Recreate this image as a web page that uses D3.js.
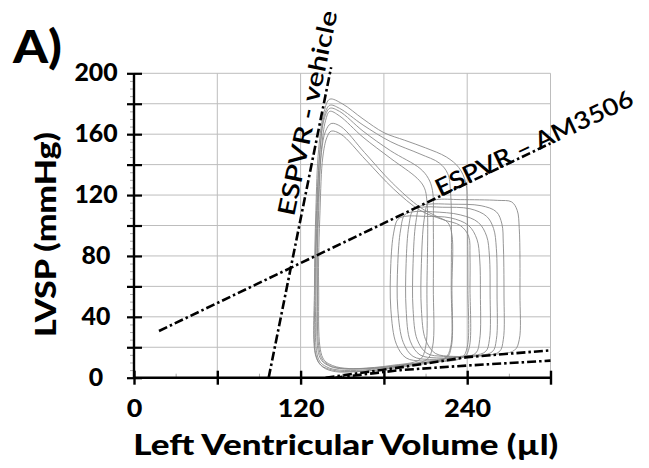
<!DOCTYPE html>
<html><head><meta charset="utf-8">
<script src="https://cdn.jsdelivr.net/npm/d3@7"></script>
<style>body{margin:0;background:#fff}svg{display:block}</style>
</head><body>
<svg id="c" width="649" height="468"></svg>
<script>
// ---- data ----
const xTicks = [0, 60, 120, 180, 240, 300];
const xTickLabels = ["0", "", "120", "", "240", ""];
const xMinor = [30, 90, 150, 210, 270];
const yTicks = [0, 20, 40, 60, 80, 100, 120, 140, 160, 180, 200];
const yTickLabels = ["0", "", "40", "", "80", "", "120", "", "160", "", "200"];
const yMinor = [5,10,15,25,30,35,45,50,55,65,70,75,85,90,95,105,110,115,125,130,135,145,150,155,165,170,175,185,190,195];

// ESPVR / EDPVR lines [volume, pressure]
const espvrVehicle = [[97, 0], [142, 204]];
const espvrAM = [[18, 30.7], [300, 154]];
const edpvrA = [[138, 0], [192, 6.8], [240, 13.5], [300, 18]];
const edpvrB = [[145, 0], [192, 5], [240, 8], [300, 11.2]];

// vehicle loops (volume, pressure), closed
const vehLoop1 = [[141,183],[150,180],[165,170],[180,161],[195,156],[210,151],[225,145],[234,138],[239,128],[240,110],[240.5,60],[240,20],[236,13],[215,10],[185,6],[160,4],[145,4],[136,7],[131,14],[130,60],[131,110],[133,150],[137,175]];
const vehLoop2 = [[141,179],[148,177],[165,166],[185,155],[206,147],[220,141],[226,134],[228,122],[228.5,60],[228,20],[224,13],[200,9],[175,5],[155,4],[143,5],[135,8],[131,15],[130.5,60],[131.5,110],[134,150],[137,172]];
const vehLoop3 = [[141,177],[148,175],[165,162],[185,149],[206,137.5],[212,131],[215,123],[215.6,100],[215.6,60],[215,20],[211,12],[190,8],[165,5],[148,5],[139,7],[133,12],[131,60],[132,110],[134,150],[137,170]];
const vehLoop4 = [[141,175],[148,172],[165,158],[185,144],[204,131],[209,125],[211,116],[211,60],[210,20],[206,12],[185,8],[162,6],[148,6],[140,8],[134,13],[132,60],[132.5,110],[135,150],[138,169]];
const vehLoop5 = [[142,167],[149,165],[166,148],[186,128],[206,112],[218,106],[226,102],[229,94],[229,60],[228.5,20],[225,13],[200,9],[170,6],[150,6],[141,8],[135,13],[132,60],[133,110],[135,148],[138,162]];
const vehLoop6 = [[142,162],[149,160],[167,143],[187,124],[206,110],[222,104],[235,100],[241,93],[242,80],[242,60],[241.5,20],[238,14],[210,10],[180,7],[155,6],[143,8],[136,13],[133,60],[134,110],[136,145],[139,158]];

// AM3506 loops
const amLoop1 = [[190,104],[195,106],[210,106],[228,105],[241,100],[247,91],[249,78],[249.5,55],[249,25],[246,16],[230,13],[208,11],[196,13],[189,22],[185,45],[185,75],[187,95]];
const amLoop2 = [[195,107],[201,109],[215,109],[235,107],[248,102],[254,93],[256,80],[256.5,55],[256,25],[253,17],[235,14],[213,12],[201,14],[194,23],[190,45],[190,75],[192,97]];
const amLoop3 = [[201,110],[207,112],[222,112],[242,111],[254,106],[259,98],[261,85],[261.5,55],[261,25],[258,17],[240,14],[218,13],[206,15],[199,24],[196,45],[196,75],[198,100]];
const amLoop4 = [[206,112.5],[212,114],[228,114],[250,113],[261,109],[265,101],[266,88],[266.5,55],[266,25],[263,17],[245,14],[223,14],[211,16],[204,25],[201,45],[201,75],[203,102]];
const amLoop5 = [[212,115],[218,117],[235,117],[262,116.5],[272,115.5],[276,110],[277.5,98],[278,55],[277.5,25],[274,18],[255,15],[230,14],[217,16],[210,25],[207,45],[207,75],[209,104]];

const loops = [vehLoop1, vehLoop2, vehLoop3, vehLoop4, vehLoop5, vehLoop6, amLoop1, amLoop2, amLoop3, amLoop4, amLoop5];

// ---- drawing ----
const svg = d3.select("#c");
const x = d3.scaleLinear().domain([0, 300]).range([134, 550.5]);
const y = d3.scaleLinear().domain([0, 200]).range([377.7, 73.3]);
const font = "Lato, 'Open Sans', sans-serif";

// grid
const g = svg.append("g");
g.selectAll(".hg").data(yTicks.filter(d => d > 0)).join("line")
  .attr("x1", x(0)).attr("x2", x(300)).attr("y1", d => y(d)).attr("y2", d => y(d))
  .attr("stroke", "#bdbdbd").attr("stroke-width", 1);
g.selectAll(".vg").data(xTicks.filter(d => d > 0)).join("line")
  .attr("y1", y(0)).attr("y2", y(200)).attr("x1", d => x(d)).attr("x2", d => x(d))
  .attr("stroke", "#bdbdbd").attr("stroke-width", 1);

// loops
const line = d3.line().x(d => x(d[0])).y(d => y(d[1])).curve(d3.curveCatmullRomClosed.alpha(0.5));
svg.append("g").selectAll("path").data(loops).join("path")
  .attr("d", line).attr("fill", "none").attr("stroke", "#8a8a8a").attr("stroke-width", 0.9);

// relation lines
[espvrVehicle, espvrAM, edpvrA, edpvrB].forEach(d => {
  svg.append("path").attr("d", d3.line().x(p => x(p[0])).y(p => y(p[1]))(d))
    .attr("fill", "none").attr("stroke", "#000").attr("stroke-width", 2.6)
    .attr("stroke-dasharray", "9,3,2.5,3");
});

// minor ticks
svg.append("g").attr("transform", `translate(0,${y(0)})`)
  .call(d3.axisBottom(x).tickValues(xMinor).tickSize(-4).tickFormat(""))
  .call(a => a.select(".domain").remove())
  .call(a => a.selectAll("line").attr("stroke", "#aaa").attr("stroke-width", 1));
svg.append("g").attr("transform", `translate(${x(0)},0)`)
  .call(d3.axisLeft(y).tickValues(yMinor).tickSize(4).tickFormat(""))
  .call(a => a.select(".domain").remove())
  .call(a => a.selectAll("line").attr("stroke", "#aaa").attr("stroke-width", 1));

// major axes
const xa = svg.append("g").attr("transform", `translate(0,${y(0)})`)
  .call(d3.axisBottom(x).tickValues(xTicks).tickSize(7).tickPadding(15).tickFormat((d, i) => xTickLabels[i]));
xa.select(".domain").attr("d", `M${x(0)},0H${x(300)}`).attr("stroke", "#000").attr("stroke-width", 2.4);
xa.selectAll(".tick line").attr("y1", -7).attr("y2", 7).attr("stroke", "#000").attr("stroke-width", 2.4);
xa.selectAll("text").attr("font-family", font).attr("font-weight", "900").attr("font-size", 25).attr("fill", "#000")
  .each(function() { const t = this.textContent; if (t) d3.select(this).attr("textLength", t.length * 15.6).attr("lengthAdjust", "spacingAndGlyphs"); });

const ya = svg.append("g").attr("transform", `translate(${x(0)},0)`)
  .call(d3.axisLeft(y).tickValues(yTicks).tickSize(8).tickPadding(10).tickFormat((d, i) => yTickLabels[i]));
ya.select(".domain").attr("d", `M0,${y(0)}V${y(200)}`).attr("stroke", "#000").attr("stroke-width", 2.4);
ya.selectAll(".tick line").attr("x1", -7).attr("x2", 8).attr("stroke", "#000").attr("stroke-width", 2.2);
ya.selectAll("text").attr("font-family", font).attr("font-weight", "900").attr("font-size", 24).attr("fill", "#000")
  .attr("text-anchor", "middle").attr("x", -38)
  .each(function() { const t = this.textContent; if (t) d3.select(this).attr("textLength", t.length * 14.4).attr("lengthAdjust", "spacingAndGlyphs"); });

// titles
svg.append("text").attr("x", 345.8).attr("y", 455).attr("text-anchor", "middle")
  .attr("font-family", font).attr("font-weight", "900").attr("font-size", 29)
  .attr("textLength", 425).attr("lengthAdjust", "spacingAndGlyphs").text("Left Ventricular Volume (µl)");
svg.append("text").attr("transform", "translate(56,234.5) rotate(-90)").attr("text-anchor", "middle")
  .attr("font-family", font).attr("font-weight", "900").attr("font-size", 29)
  .attr("textLength", 205).attr("lengthAdjust", "spacingAndGlyphs").text("LVSP (mmHg)");
svg.append("text").attr("x", 13).attr("y", 63)
  .attr("font-family", font).attr("font-weight", "900").attr("font-size", 46)
  .attr("textLength", 49).attr("lengthAdjust", "spacingAndGlyphs").text("A)");

// relation labels
svg.append("text").attr("transform", "translate(294,217) rotate(-78)")
  .attr("font-family", font).attr("font-weight", "600").attr("font-size", 24)
  .attr("textLength", 209).attr("lengthAdjust", "spacingAndGlyphs").text("ESPVR - vehicle");
svg.append("text").attr("transform", "translate(440,197) rotate(-25.3)")
  .attr("font-family", font).attr("font-weight", "600").attr("font-size", 24)
  .attr("textLength", 216).attr("lengthAdjust", "spacingAndGlyphs").text("ESPVR – AM3506");
</script>
</body></html>
